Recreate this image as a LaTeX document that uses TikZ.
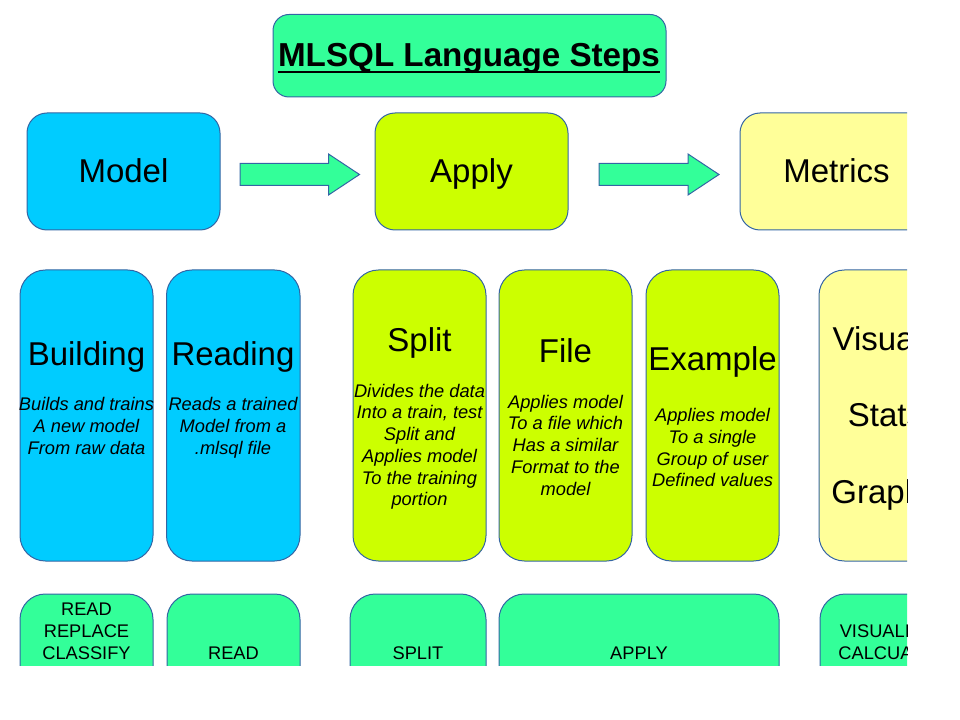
\documentclass[tikz,border=0pt]{standalone}
\usepackage{fontspec}
\setmainfont{Liberation Sans}
\definecolor{tgreen}{HTML}{33FF99}
\definecolor{tblue}{HTML}{00CCFF}
\definecolor{tlime}{HTML}{CCFF00}
\definecolor{tyellow}{HTML}{FFFF99}
\definecolor{tborder}{HTML}{3465A4}
\begin{document}
\begin{tikzpicture}[x=0.75pt,y=-0.75pt,
  box/.style={draw=tborder,line width=0.75pt,rounded corners=#1},
  big/.style={inner sep=0pt,anchor=base,font=\fontsize{24.75pt}{29pt}\selectfont},
  small/.style={inner sep=0pt,anchor=base,align=center,font=\fontsize{13.7pt}{16.3pt}\selectfont\itshape},
  cmd/.style={inner sep=0pt,anchor=base,align=center,font=\fontsize{13.7pt}{16.3pt}\selectfont},
  arrowshape/.style={draw=tborder,fill=tgreen,line width=0.75pt}]
\useasboundingbox (0,0) rectangle (960,720);
\clip (0,0) rectangle (907,665);
% title
\path[box=12pt,fill=tgreen] (273,14.5) rectangle (666,97);
\node[inner sep=0pt,anchor=base,font=\fontsize{24.9pt}{29pt}\selectfont\bfseries] (title) at (469,66.7) {MLSQL Language Steps};
\draw[line width=1.5pt] ([yshift=-3.8pt]title.base west) -- ([yshift=-3.8pt]title.base east);
% top row
\path[box=15pt,fill=tblue] (27,113) rectangle (220,230);
\node[big] (model) at (123.5,182.7) {Model};
\path[box=15pt,fill=tlime] (375,113) rectangle (568,230);
\node[big] (apply) at (471.5,182.7) {Apply};
\path[box=15pt,fill=tyellow] (740,113) rectangle (933,230);
\node[big] (metrics) at (836.5,182.7) {Metrics};
% arrows
\path[arrowshape] (240,163.5) -- (328.5,163.5) -- (328.5,154) -- (359.5,174.5) -- (328.5,195) -- (328.5,185.5) -- (240,185.5) -- cycle;
\path[arrowshape] (599,163.5) -- (688,163.5) -- (688,154) -- (719,174.5) -- (688,195) -- (688,185.5) -- (599,185.5) -- cycle;
% second row (multi-line nodes are anchored at the baseline of their last line)
\path[box=19pt,fill=tblue] (20,270) rectangle (153,561);
\node[big] (building) at (86.5,365) {Building};
\node[small] (buildingtext) at (86.5,454.1) {Builds and trains\\A new model\\From raw data};
\path[box=19pt,fill=tblue] (166.5,270) rectangle (300,561);
\node[big] (reading) at (233,365) {Reading};
\node[small] (readingtext) at (233,454.1) {Reads a trained\\Model from a\\.mlsql file};
\path[box=19pt,fill=tlime] (353,270) rectangle (486,561);
\node[big] (split) at (419.5,351.7) {Split};
\node[small] (splittext) at (419.5,505.8) {Divides the data\\Into a train, test\\Split and\\Applies model\\To the training\\portion};
\path[box=19pt,fill=tlime] (499,270) rectangle (632,561);
\node[big] (file) at (565.5,362.7) {File};
\node[small] (filetext) at (565.5,495.1) {Applies model\\To a file which\\Has a similar\\Format to the\\model};
\path[box=19pt,fill=tlime] (646,270) rectangle (779,561);
\node[big] (example) at (712.5,370.7) {Example};
\node[small] (exampletext) at (712.5,486.8) {Applies model\\To a single\\Group of user\\Defined values};
\path[box=19pt,fill=tyellow] (819,270) rectangle (952,561);
\node[big] (visuals) at (885.5,350) {Visuals};
\node[big] (stats) at (885.5,426.7) {Stats};
\node[big] (graphs) at (885.5,503.3) {Graphs};
% bottom row
\path[box=19pt,fill=tgreen] (20,594) rectangle (153,720);
\node[cmd] (cmdmodel) at (86.5,659) {READ\\REPLACE\\CLASSIFY};
\path[box=19pt,fill=tgreen] (167,594) rectangle (300,720);
\node[cmd] (cmdread) at (233.5,659) {READ};
\path[box=19pt,fill=tgreen] (350,594) rectangle (486,720);
\node[cmd] (cmdsplit) at (418,659) {SPLIT};
\path[box=19pt,fill=tgreen] (499,594) rectangle (779,720);
\node[cmd] (cmdapply) at (639,659) {APPLY};
\path[box=19pt,fill=tgreen] (820,594) rectangle (953,720);
\node[cmd] (cmdvis) at (886.5,659) {VISUALIZE\\CALCUATE};
\end{tikzpicture}
\end{document}
